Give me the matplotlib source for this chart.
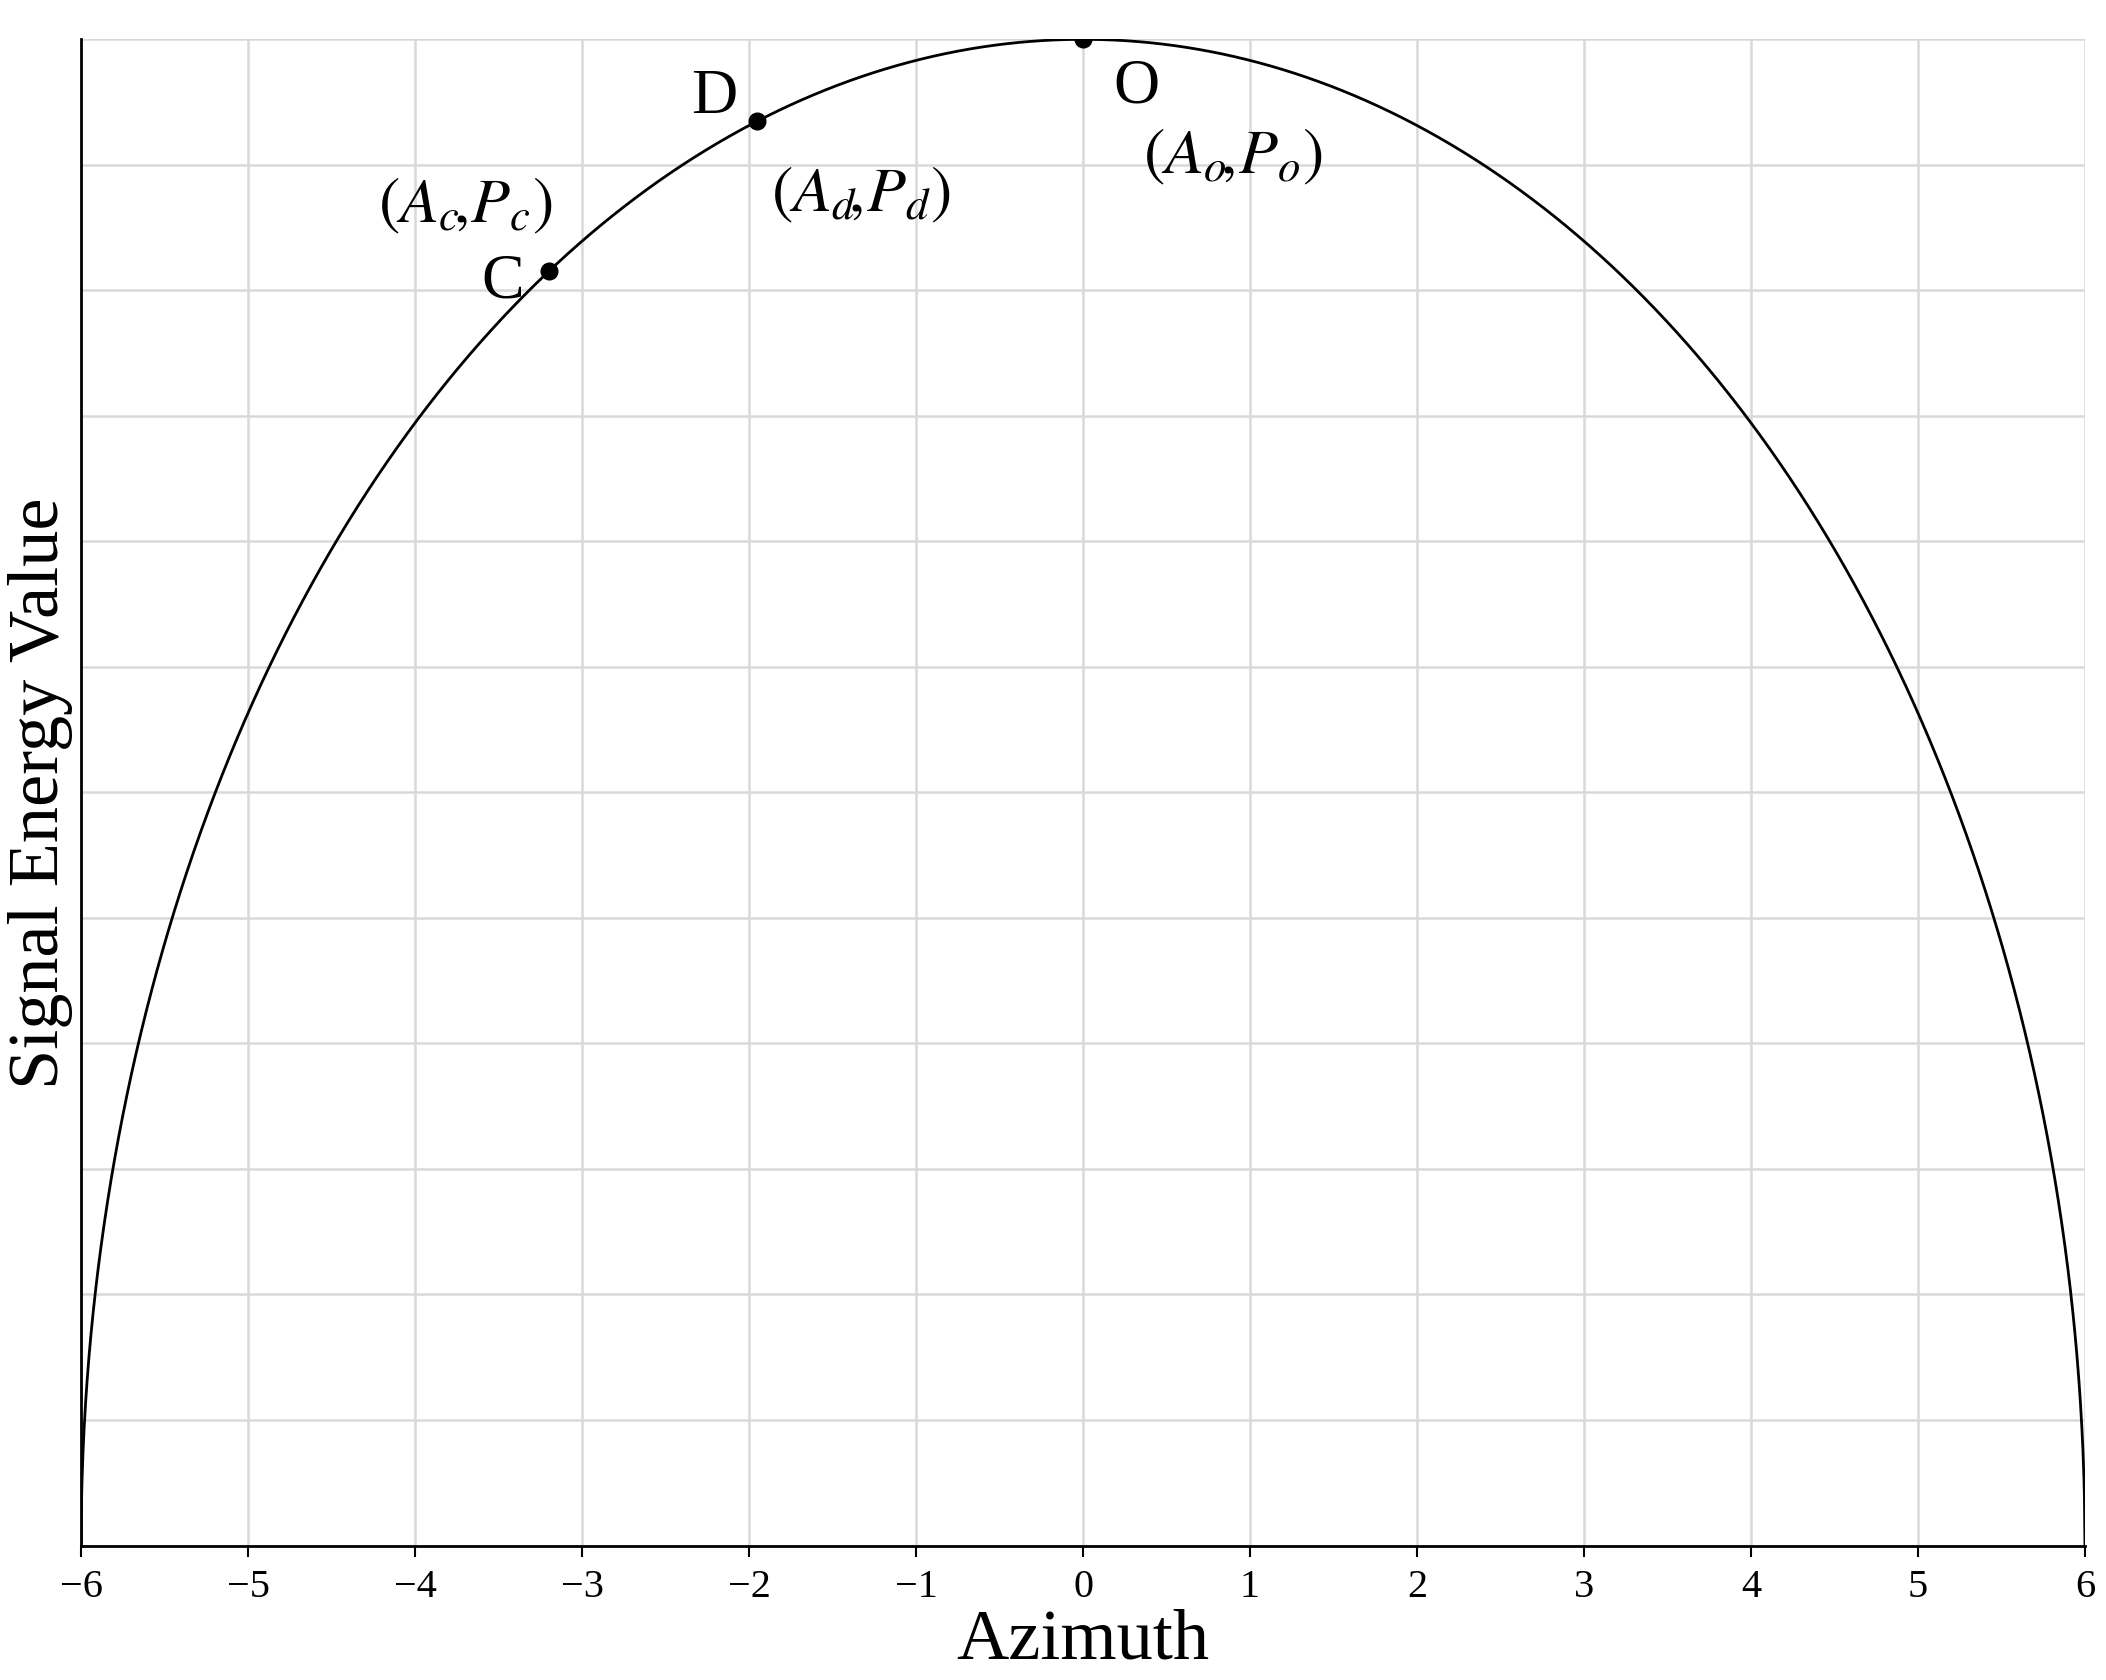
import matplotlib
matplotlib.use('Agg')
import matplotlib.pyplot as plt
import numpy as np

plt.rcParams['font.family'] = ['Liberation Serif', 'DejaVu Serif']
plt.rcParams['mathtext.fontset'] = 'stix'

# semi-ellipse: half-width 6, peak 1
half_width = 6.0
peak = 1.0
point_names = ['C', 'D', 'O']
point_x = [-3.2, -1.95, 0.0]

x = np.linspace(-half_width, half_width, 4001)
y = peak * np.sqrt(np.clip(1 - (x / half_width) ** 2, 0, None))
px = np.array(point_x)
py = peak * np.sqrt(1 - (px / half_width) ** 2)

fig = plt.figure(figsize=(21.06, 16.81), dpi=100)
ax = fig.add_axes([0.0385, 0.08, 0.9515, 0.896])
ax.plot(x, y, color='black', lw=2)
ax.plot(px, py, 'o', color='black', ms=12)

ax.set_xlim(-6, 6)
ax.set_ylim(0, 1)
ax.set_xticks(range(-6, 7))
ax.set_xticklabels([str(t).replace('-', '\u2212') for t in range(-6, 7)])
ax.set_yticks(np.linspace(0, 1, 13))
ax.set_yticklabels([])
ax.grid(True, color='#d9d9d9', lw=1.8)
ax.set_axisbelow(True)
for s in ['top', 'right']:
    ax.spines[s].set_visible(False)
for s in ['left', 'bottom']:
    ax.spines[s].set_linewidth(2)
ax.tick_params(axis='x', labelsize=29, length=8, width=1.5, pad=8)
ax.tick_params(axis='y', length=0)
ax.set_xlabel('Azimuth', fontsize=52, labelpad=2)
ax.set_ylabel('Signal Energy Value', fontsize=52, labelpad=2)

fs = 46
ax.text(0.18, 0.969, 'O', fontsize=fs, va='center', ha='left')
ax.text(0.9, 0.922, r'$(A_o\!,\!P_o)$', fontsize=fs, va='center', ha='center')
ax.text(-2.07, 0.962, 'D', fontsize=fs, va='center', ha='right')
ax.text(-1.33, 0.897, r'$(A_d\!,\!P_d)$', fontsize=fs, va='center', ha='center')
ax.text(-3.70, 0.890, r'$(A_c\!,\!P_c)$', fontsize=fs, va='center', ha='center')
ax.text(-3.35, 0.839, 'C', fontsize=fs, va='center', ha='right')

fig.savefig('out.png', dpi=100)
